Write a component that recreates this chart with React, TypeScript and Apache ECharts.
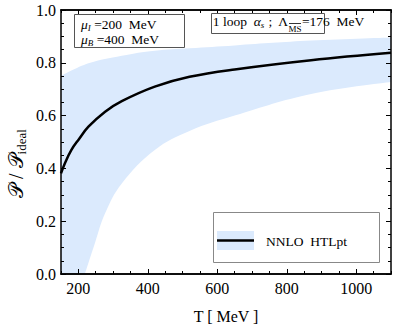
import React, { useEffect, useRef } from "react";
import * as echarts from "echarts";

// Central curve: NNLO HTLpt
const lineT = [150, 161, 180, 200, 229, 277, 325, 420, 520, 650, 870, 1100];
const lineV = [0.381, 0.419, 0.47, 0.508, 0.558, 0.615, 0.655, 0.71, 0.747, 0.775, 0.81, 0.838];
// Band upper edge
const upperT = [150, 229, 325, 420, 520, 650, 870, 1100];
const upperV = [0.75, 0.798, 0.827, 0.846, 0.855, 0.866, 0.884, 0.896];
// Band lower edge
const lowerT = [219, 248, 277, 325, 420, 520, 650, 870, 1100];
const lowerV = [0, 0.118, 0.23, 0.343, 0.47, 0.542, 0.6, 0.682, 0.727];

const xMajor = [200, 400, 600, 800, 1000];
const xMinor = [150, 250, 300, 350, 450, 500, 550, 650, 700, 750, 850, 900, 950, 1050, 1100];

const FONT = "'Liberation Serif', 'DejaVu Serif', serif";
const BAND = "#dbeafd";

export default function App() {
  const ref = useRef<HTMLDivElement>(null);
  useEffect(() => {
    document.body.style.margin = "0";
    const chart = echarts.init(ref.current!, null, { renderer: "svg" });
    const pairs = (t: number[], v: number[]) => t.map((x, i) => [x, v[i]]);
    const xCommon = {
      type: "value" as const,
      min: 150,
      max: 1100,
      z: 10,
      splitLine: { show: false },
      axisLine: { show: true, onZero: false, lineStyle: { color: "#000", width: 1.5 } },
    };
    const yCommon = {
      type: "value" as const,
      min: 0,
      max: 1,
      interval: 0.2,
      z: 10,
      splitLine: { show: false },
      axisLine: { show: true, onZero: false, lineStyle: { color: "#000", width: 1.5 } },
      axisTick: { show: true, inside: true, length: 5, lineStyle: { color: "#000", width: 1 } },
      minorTick: { show: true, splitNumber: 4, length: 3, lineStyle: { color: "#000", width: 1 } },
    };
    const richBox = {
      i: { fontFamily: FONT, fontSize: 13.5, fontStyle: "italic", lineHeight: 16, fill: "#000" },
      s: { fontFamily: FONT, fontSize: 9, fontStyle: "italic", lineHeight: 9, verticalAlign: "bottom", fill: "#000" },
      n: { fontFamily: FONT, fontSize: 13.5, lineHeight: 16, fill: "#000" },
    };
    chart.setOption({
      animation: false,
      backgroundColor: "#fff",
      grid: { left: 61, right: 18, top: 10, bottom: 55, outerBoundsMode: "none", containLabel: false },
      xAxis: [
        {
          ...xCommon,
          position: "bottom",
          name: "T [ MeV ]",
          nameLocation: "middle",
          nameGap: 34,
          nameTextStyle: { fontFamily: FONT, fontSize: 16, color: "#000" },
          axisLabel: {
            customValues: xMajor,
            fontFamily: FONT,
            fontSize: 16,
            color: "#000",
            margin: 6,
            formatter: (v: number) => String(v),
          },
          axisTick: { show: true, inside: true, customValues: xMajor, length: 5, lineStyle: { color: "#000", width: 1 } },
        },
        {
          ...xCommon,
          position: "bottom",
          axisLabel: { show: false },
          axisTick: { show: true, inside: true, customValues: xMinor, length: 3, lineStyle: { color: "#000", width: 1 } },
        },
        {
          ...xCommon,
          position: "top",
          axisLabel: { show: false },
          axisTick: { show: true, inside: true, customValues: xMajor, length: 5, lineStyle: { color: "#000", width: 1 } },
        },
        {
          ...xCommon,
          position: "top",
          axisLabel: { show: false },
          axisTick: { show: true, inside: true, customValues: xMinor, length: 3, lineStyle: { color: "#000", width: 1 } },
        },
      ],
      yAxis: [
        {
          ...yCommon,
          position: "left",
          axisLabel: {
            fontFamily: FONT,
            fontSize: 16,
            color: "#000",
            margin: 5,
            formatter: (v: number) => v.toFixed(1),
          },
        },
        {
          ...yCommon,
          position: "right",
          axisLabel: { show: false },
        },
      ],
      series: [
        {
          name: "upper",
          type: "line",
          data: pairs(upperT, upperV),
          smooth: 0.4,
          symbol: "none",
          lineStyle: { width: 0 },
          areaStyle: { color: BAND, opacity: 1, origin: "start" },
          silent: true,
        },
        {
          name: "lower",
          type: "line",
          data: pairs(lowerT, lowerV),
          smooth: 0.4,
          symbol: "none",
          lineStyle: { width: 0 },
          areaStyle: { color: "#fff", opacity: 1, origin: "start" },
          silent: true,
        },
        {
          name: "NNLO HTLpt",
          type: "line",
          data: pairs(lineT, lineV),
          smooth: 0.4,
          symbol: "none",
          lineStyle: { color: "#000", width: 2.5 },
        },
      ],
      graphic: [
        // y axis title
        {
          type: "text",
          x: 16,
          y: 198,
          rotation: Math.PI / 2,
          style: {
            text: "{a|𝒫 / 𝒫}{b|ideal}",
            fill: "#000",
            align: "left",
            verticalAlign: "middle",
            rich: {
              a: { fontFamily: FONT, fontSize: 20, lineHeight: 24, fill: "#000" },
              b: { fontFamily: FONT, fontSize: 13, lineHeight: 12, verticalAlign: "bottom", fill: "#000" },
            },
          },
        },
        // box 1
        {
          type: "rect",
          z: 100,
          shape: { x: 74.5, y: 14.5, width: 110, height: 33 },
          style: { fill: "#fff", stroke: "#555", lineWidth: 1 },
        },
        {
          type: "text",
          z: 101,
          x: 81,
          y: 24,
          style: { text: "{i|μ}{s|I}{n| =200  MeV}", verticalAlign: "middle", rich: richBox },
        },
        {
          type: "text",
          z: 101,
          x: 81,
          y: 39.5,
          style: { text: "{i|μ}{s|B}{n| =400  MeV}", verticalAlign: "middle", rich: richBox },
        },
        // box 2
        {
          type: "rect",
          z: 100,
          shape: { x: 211.5, y: 13.5, width: 113, height: 20 },
          style: { fill: "#fff", stroke: "#555", lineWidth: 1 },
        },
        {
          type: "text",
          z: 101,
          x: 288,
          y: 21,
          style: {
            text: "{n|1 loop  }{i|α}{s|s}{n| ;  Λ}",
            align: "right",
            verticalAlign: "middle",
            rich: richBox,
          },
        },
        {
          type: "text",
          z: 101,
          x: 295,
          y: 28.5,
          style: {
            text: "MS",
            fontFamily: FONT,
            fontSize: 9,
            fill: "#000",
            align: "center",
            verticalAlign: "middle",
          },
        },
        {
          type: "line",
          z: 101,
          shape: { x1: 289, y1: 23.5, x2: 301, y2: 23.5 },
          style: { stroke: "#000", lineWidth: 0.8 },
        },
        {
          type: "text",
          z: 101,
          x: 302,
          y: 21,
          style: {
            text: "=176  MeV",
            fontFamily: FONT,
            fontSize: 13.5,
            fill: "#000",
            align: "left",
            verticalAlign: "middle",
          },
        },
        // legend
        {
          type: "rect",
          z: 100,
          shape: { x: 213.5, y: 212.5, width: 166, height: 50 },
          style: { fill: "#fff", stroke: "#888", lineWidth: 1 },
        },
        {
          type: "rect",
          z: 101,
          shape: { x: 217, y: 231, width: 37, height: 19 },
          style: { fill: BAND },
        },
        {
          type: "line",
          z: 102,
          shape: { x1: 217, y1: 240.5, x2: 254, y2: 240.5 },
          style: { stroke: "#000", lineWidth: 2.5 },
        },
        {
          type: "text",
          z: 101,
          x: 266,
          y: 241,
          style: {
            text: "NNLO  HTLpt",
            fontFamily: FONT,
            fontSize: 13.5,
            fill: "#000",
            verticalAlign: "middle",
          },
        },
      ],
    });
    return () => chart.dispose();
  }, []);
  return <div ref={ref} style={{ width: 409, height: 329 }} />;
}
